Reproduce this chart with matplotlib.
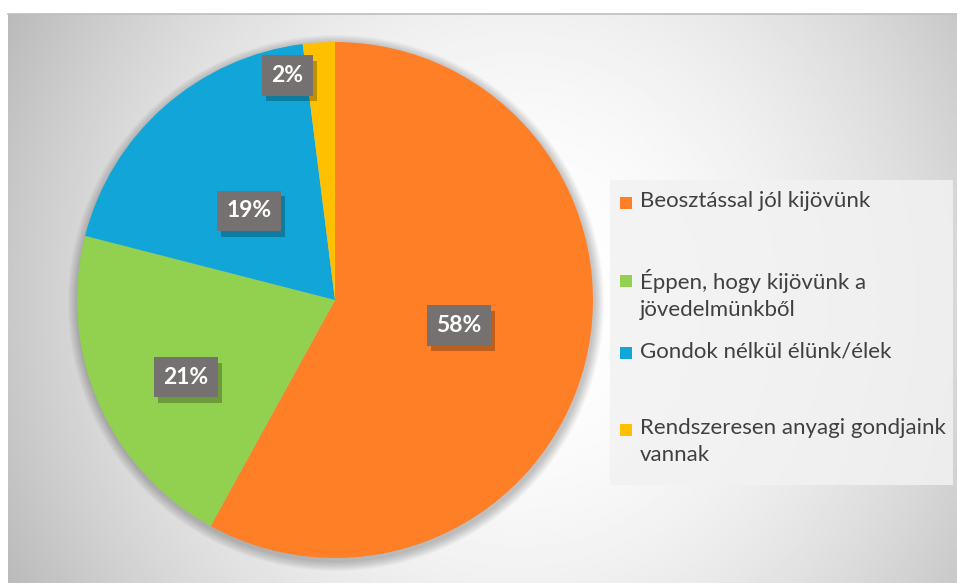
import numpy as np
import matplotlib
matplotlib.use('Agg')
import matplotlib.pyplot as plt
import matplotlib.transforms as mtransforms
import matplotlib.patheffects as pe
from matplotlib.patches import Rectangle, Circle

# Adatok
categories = [
    "Beosztással jól kijövünk",
    "Éppen, hogy kijövünk a\njövedelmünkből",
    "Gondok nélkül élünk/élek",
    "Rendszeresen anyagi gondjaink\nvannak",
]
shares = [58, 21, 19, 2]
colors = ["#FF7F27", "#92D050", "#12A6D8", "#FFC000"]

W, H = 957, 583
plt.rcParams['font.family'] = ['Lato', 'DejaVu Sans']

fig = plt.figure(figsize=(W / 100, H / 100), dpi=100)
ax = fig.add_axes([0, 0, 1, 1])

# Háttér: radiális szürke átmenet
gx = np.linspace(8, W, 400)
gy = np.linspace(14, H, 300)
X, Y = np.meshgrid(gx, gy)
d2 = ((X - 520) / 520) ** 2 + ((Y - 300) / 560) ** 2
val = np.clip(1 - 0.22 * d2, 0, 1)
ax.imshow(val, cmap='gray', vmin=0, vmax=1, extent=(8, W, 0, H - 14),
          origin='upper', aspect='auto', zorder=0, interpolation='bilinear')
ax.plot([8, W], [H - 14, H - 14], color='#bdbdbd', lw=1.2, zorder=1)

# Torta árnyék
cx, cy, R = 335, H - 300, 258
for k in range(10):
    ax.add_patch(Circle((cx + 1, cy - 3), R + 10 - k, facecolor='black',
                        edgecolor='none', alpha=0.025, zorder=1))

wedges, _ = ax.pie(shares, colors=colors, startangle=90, counterclock=False,
                   center=(cx, cy), radius=R, wedgeprops=dict(linewidth=0))
for w in wedges:
    w.set_zorder(2)

# Százalék címkék
label_r = [0.49, 0.65, 0.48, 0.89]
angle_shift = [2.8, 4.0, 2.6, 8.4]
for w, s, rf, da in zip(wedges, shares, label_r, angle_shift):
    mid = np.deg2rad((w.theta1 + w.theta2) / 2 + da)
    tx = cx + rf * R * np.cos(mid)
    ty = cy + rf * R * np.sin(mid)
    t = ax.text(tx, ty, f"{s}%", ha='center', va='center', fontsize=16.5,
                fontweight='bold', color='white', zorder=4,
                bbox=dict(boxstyle='square,pad=0.42', facecolor='#767171', edgecolor='none'))
    t.get_bbox_patch().set_path_effects([
        pe.SimplePatchShadow(offset=(3, -4), shadow_rgbFace='black', alpha=0.25),
        pe.Normal()])

# Jelmagyarázat
ax.add_patch(Rectangle((610, H - 485), 343, 305, facecolor='#f2f2f2', edgecolor='none',
                       alpha=0.85, zorder=2))
leg_y = [203, 281, 353, 430]
up = mtransforms.ScaledTranslation(0, 12 / 100, fig.dpi_scale_trans)
for lab, c, y in zip(categories, colors, leg_y):
    ax.add_patch(Rectangle((620, H - y - 6), 12, 12, facecolor=c, edgecolor='none', zorder=3))
    ax.text(640, H - y, lab, ha='left', va='top', fontsize=16, color='#404040',
            linespacing=1.45, zorder=3, transform=ax.transData + up)

ax.set_xlim(0, W)
ax.set_ylim(0, H)
ax.set_aspect('auto')
ax.axis('off')

fig.savefig('out.png', dpi=100, facecolor='white')
